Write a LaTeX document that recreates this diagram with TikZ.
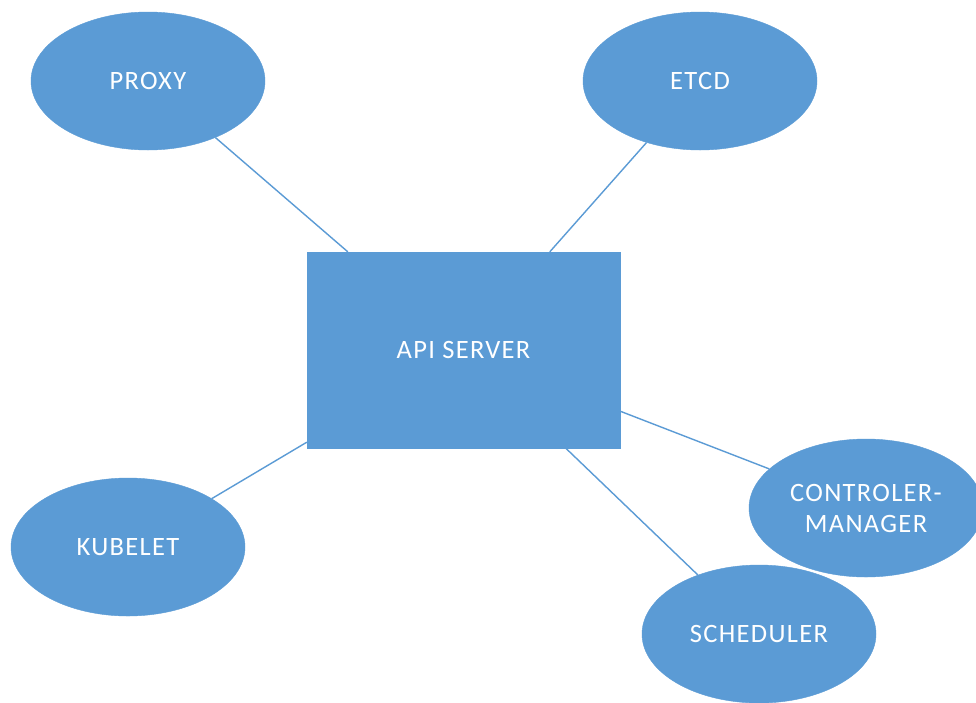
\documentclass[tikz,border=0pt]{standalone}
\usepackage{fontspec}
\setmainfont{Carlito}[LetterSpace=5]
\usetikzlibrary{shapes.geometric,calc}
\definecolor{officeblue}{HTML}{5B9BD5}
\begin{document}
\begin{tikzpicture}[x=1pt,y=-1pt,
  comp/.style={ellipse,fill=officeblue,draw=officeblue,inner sep=0pt,
    minimum width=234pt,minimum height=138pt,text=white,
    font=\fontsize{26.5}{31}\selectfont,align=center},
  hub/.style={rectangle,fill=officeblue,draw=officeblue,inner sep=0pt,
    minimum width=313pt,minimum height=196pt,text=white,
    font=\fontsize{26.5}{31}\selectfont},
  link/.style={draw=officeblue,line width=1.4pt}]
\useasboundingbox (0,0) rectangle (976,702);
\fill[white] (0,0) rectangle (976,702);
\node[hub] (api) at (463.5,350) {API SERVER};
\node[comp] (proxy) at (148,81) {PROXY};
\node[comp] (etcd) at (700,81) {ETCD};
\node[comp] (kubelet) at (128,547) {KUBELET};
\node[comp] (ctrl) at (866,508) {CONTROLER-\\MANAGER};
\node[comp] (sched) at (759,634) {SCHEDULER};
\draw[link] (proxy.-40) -- ($(api.north west)+(41,0)$);
\draw[link] (etcd.-131) -- ($(api.north west)+(243,0)$);
\draw[link] (kubelet.30.5) -- ($(api.south west)+(0,-6)$);
\draw[link] (ctrl.158) -- ($(api.south east)+(0,-37)$);
\draw[link] (sched.136) -- ($(api.south west)+(259,0)$);
\end{tikzpicture}
\end{document}
